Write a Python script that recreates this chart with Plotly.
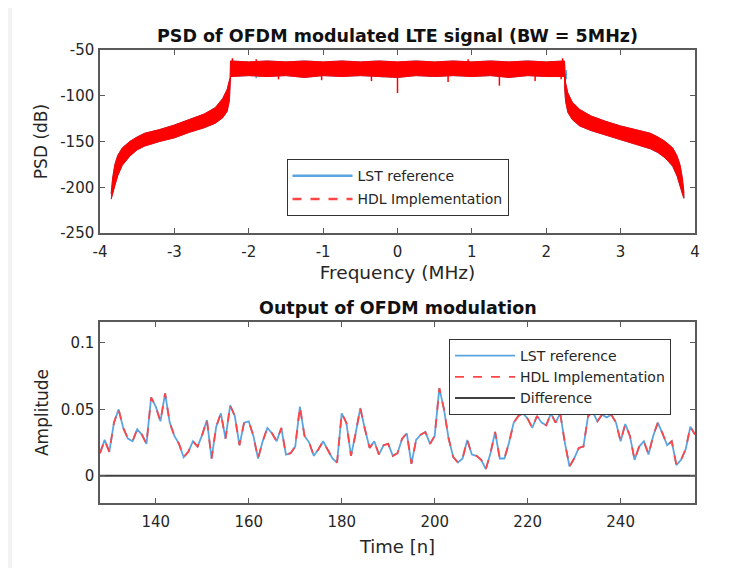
import plotly.graph_objects as go
from plotly.subplots import make_subplots

# ---- PSD panel: envelope of the dense spectrum ----
psd_freq = [-3.85, -3.83, -3.80, -3.76, -3.70, -3.60, -3.50, -3.40, -3.20, -3.00,
            -2.80, -2.60, -2.45, -2.35, -2.29, -2.26, -2.25,
            -2.245, -2.0, -1.75, -1.5, -1.25, -1.0, -0.75, -0.5, -0.25, 0.0,
            0.25, 0.5, 0.75, 1.0, 1.25, 1.5, 1.75, 2.0, 2.245,
            2.25, 2.26, 2.29, 2.35, 2.45, 2.60, 2.80, 3.00, 3.20, 3.40,
            3.50, 3.60, 3.70, 3.76, 3.80, 3.83, 3.85]
psd_upper = [-207, -190, -175, -165, -157, -150, -145, -141, -137, -132,
             -126, -120, -113, -103, -93, -84, -80,
             -62, -63, -62, -63, -62, -63, -62, -63, -62, -63,
             -62, -63, -62, -63, -62, -63, -62, -63, -62,
             -80, -86, -97, -107, -115, -122, -128, -133, -137, -141,
             -145, -150, -157, -166, -176, -190, -205]
psd_lower = [-213, -208, -198, -187, -176, -166, -159, -155, -150, -146,
             -140, -135, -130, -124, -117, -105, -95,
             -79, -78, -79, -78, -80, -78, -79, -78, -79, -80,
             -78, -79, -78, -79, -78, -80, -78, -79, -79,
             -95, -106, -118, -126, -133, -138, -143, -148, -153, -158,
             -162, -168, -177, -188, -198, -207, -212]

# isolated spikes poking out of the in-band noise
spike_freq = [-2.22, -1.9, -1.6, -1.02, -0.35, 0.0, 0.68, 0.95, 1.37, 1.85, 2.2, 2.22]
spike_db = [-59, -60, -82, -83, -84, -97, -85, -60, -89, -84, -82, -59]
blue_spike_freq = [-1.9, -0.2, 2.27]
blue_spike_db = [-81, -80, -82]

psd_xticks = [-4, -3, -2, -1, 0, 1, 2, 3, 4]
psd_yticks = [-250, -200, -150, -100, -50]

# ---- time-domain panel ----
samples = list(range(128, 257))
lst_amp = [0.017, 0.027, 0.018, 0.040, 0.050, 0.036, 0.028, 0.026, 0.035, 0.031,
           0.024, 0.059, 0.052, 0.041, 0.062, 0.040, 0.030, 0.024, 0.014, 0.018,
           0.026, 0.022, 0.031, 0.042, 0.013, 0.037, 0.047, 0.028, 0.053, 0.045,
           0.023, 0.040, 0.041, 0.030, 0.013, 0.026, 0.036, 0.032, 0.026, 0.036,
           0.016, 0.017, 0.022, 0.052, 0.030, 0.025, 0.015, 0.020, 0.026, 0.020,
           0.013, 0.010, 0.047, 0.040, 0.015, 0.032, 0.051, 0.035, 0.021, 0.026,
           0.016, 0.023, 0.024, 0.015, 0.017, 0.028, 0.032, 0.009, 0.027, 0.031,
           0.033, 0.024, 0.030, 0.066, 0.050, 0.028, 0.014, 0.010, 0.013, 0.027,
           0.016, 0.015, 0.012, 0.005, 0.017, 0.033, 0.013, 0.013, 0.025, 0.040,
           0.045, 0.047, 0.043, 0.036, 0.045, 0.040, 0.038, 0.047, 0.040, 0.047,
           0.025, 0.007, 0.013, 0.021, 0.022, 0.045, 0.048, 0.041, 0.046, 0.044,
           0.046, 0.040, 0.026, 0.039, 0.030, 0.012, 0.022, 0.026, 0.016, 0.030,
           0.040, 0.032, 0.023, 0.026, 0.008, 0.012, 0.020, 0.037, 0.031]
hdl_amp = list(lst_amp)
diff_amp = [h - l for h, l in zip(hdl_amp, lst_amp)]
time_xticks = [140, 160, 180, 200, 220, 240]
time_yticks = [0, 0.05, 0.1]

BLUE = "#5aa5e0"
RED = "#ff4545"
AXIS = "#5a5a5a"
TXT = "#262626"
FONT = "DejaVu Sans, Verdana, sans-serif"

fig = make_subplots(rows=2, cols=1)

band_x = psd_freq + psd_freq[::-1]
band_y = psd_upper + psd_lower[::-1]

fig.add_trace(go.Scatter(x=band_x, y=band_y, fill="toself", fillcolor=BLUE,
                         line=dict(color=BLUE, width=1), mode="lines",
                         showlegend=False, hoverinfo="skip"), row=1, col=1)
bx, by = [], []
for f, d in zip(blue_spike_freq, blue_spike_db):
    bx += [f, f, None]
    by += [-72, d, None]
fig.add_trace(go.Scatter(x=bx, y=by, mode="lines", line=dict(color=BLUE, width=1.5),
                         showlegend=False, hoverinfo="skip"), row=1, col=1)
fig.add_trace(go.Scatter(x=band_x, y=band_y, fill="toself", fillcolor="#ff0000",
                         line=dict(color="#ff0000", width=1), mode="lines",
                         showlegend=False, hoverinfo="skip"), row=1, col=1)
sx, sy = [], []
for f, d in zip(spike_freq, spike_db):
    sx += [f, f, None]
    sy += [-72, d, None]
fig.add_trace(go.Scatter(x=sx, y=sy, mode="lines", line=dict(color="#ff0000", width=1.5),
                         showlegend=False, hoverinfo="skip"), row=1, col=1)

# legend-only entries for the PSD panel
fig.add_trace(go.Scatter(x=[None], y=[None], mode="lines", name="LST reference",
                         legendgroup="a", line=dict(color=BLUE, width=2.5),
                         legend="legend"), row=1, col=1)
fig.add_trace(go.Scatter(x=[None], y=[None], mode="lines", name="HDL Implementation",
                         legendgroup="b", line=dict(color=RED, width=2.5, dash="dash"),
                         legend="legend"), row=1, col=1)

fig.add_trace(go.Scatter(x=samples, y=lst_amp, mode="lines", name="LST reference",
                         legendgroup="c", line=dict(color=BLUE, width=1.8),
                         legend="legend2"), row=2, col=1)
fig.add_trace(go.Scatter(x=samples, y=hdl_amp, mode="lines", name="HDL Implementation",
                         legendgroup="d", line=dict(color=RED, width=1.8, dash="dash"),
                         legend="legend2"), row=2, col=1)
fig.add_trace(go.Scatter(x=samples, y=diff_amp, mode="lines", name="Difference",
                         legendgroup="e", line=dict(color="#404040", width=2.2),
                         legend="legend2"), row=2, col=1)

axis_style = dict(showline=True, linecolor=AXIS, linewidth=1.5, mirror="ticks",
                  ticks="inside", ticklen=5, tickcolor=AXIS, showgrid=False,
                  zeroline=False, tickfont=dict(size=15, color=TXT, family=FONT))
title_font = dict(size=18.5, color=TXT, family=FONT)

fig.update_xaxes(axis_style)
fig.update_yaxes(axis_style)
fig.update_xaxes(range=[-4, 4], tickvals=psd_xticks, ticktext=[str(v) for v in psd_xticks],
                 ticklabelstandoff=4, domain=[0, 1], row=1, col=1,
                 title=dict(text="Frequency (MHz)", font=title_font, standoff=6))
fig.update_yaxes(range=[-250, -50], tickvals=psd_yticks, ticktext=[str(v) for v in psd_yticks],
                 ticklabelstandoff=1, domain=[0.596, 1], row=1, col=1,
                 title=dict(text="PSD (dB)", font=dict(title_font, size=17), standoff=8))
fig.update_xaxes(range=[128, 256], tickvals=time_xticks, ticktext=[str(v) for v in time_xticks],
                 ticklabelstandoff=4, domain=[0, 1], row=2, col=1,
                 title=dict(text="Time [n]", font=dict(title_font, size=18), standoff=11))
fig.update_yaxes(range=[-0.0205, 0.1158], tickvals=time_yticks, ticktext=["0", "0.05", "0.1"],
                 ticklabelstandoff=1, domain=[0, 0.3996], row=2, col=1,
                 title=dict(text="Amplitude", font=dict(title_font, size=17), standoff=8))

legend_style = dict(bgcolor="white", bordercolor="#333333", borderwidth=1,
                    font=dict(size=14, color=TXT, family=FONT), itemwidth=60)

fig.update_layout(
    width=741, height=560,
    paper_bgcolor="white", plot_bgcolor="white",
    font=dict(family=FONT, color=TXT),
    margin=dict(l=92, r=54, t=42, b=65),
    legend=dict(legend_style, x=0.5, xanchor="center", y=0.759, yanchor="top",
                tracegroupgap=2),
    legend2=dict(legend_style, x=0.5866, xanchor="left", y=0.362, yanchor="top",
                 tracegroupgap=0),
    annotations=[
        dict(text="<b>PSD of OFDM modulated LTE signal (BW = 5MHz)</b>", x=0.5, y=1.0,
             xref="paper", yref="paper", yanchor="bottom", yshift=2, showarrow=False,
             font=dict(size=17.5, color="#111111", family=FONT)),
        dict(text="<b>Output of OFDM modulation</b>", x=0.5, y=0.3996,
             xref="paper", yref="paper", yanchor="bottom", yshift=2, showarrow=False,
             font=dict(size=17.5, color="#111111", family=FONT)),
    ],
    shapes=[
        dict(type="rect", xref="paper", yref="paper", x0=-0.2, x1=-88 / 595,
             y0=-0.2, y1=1.2, fillcolor="#f3f3f3", line=dict(width=0), layer="below"),
    ],
)

fig.write_html("out.html")
